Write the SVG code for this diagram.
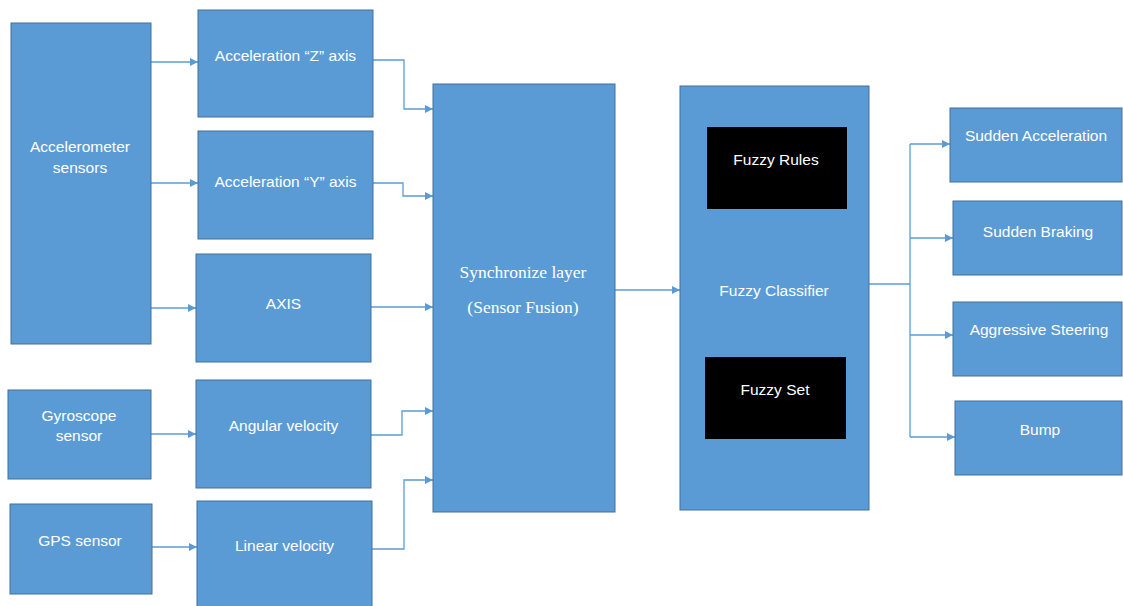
<svg xmlns="http://www.w3.org/2000/svg" width="1123" height="606" viewBox="0 0 1123 606">
<style>
.box{fill:#5B9BD5;stroke:#41719C;stroke-width:1}
.blk{fill:#000000}
.t{font-family:"Liberation Sans",Arial,sans-serif;font-size:15.5px;fill:#FFFFFF;text-anchor:middle}
.s{font-family:"Liberation Serif","Times New Roman",serif;font-size:17.5px;fill:#FFFFFF;text-anchor:middle}
.c{fill:none;stroke:#5B9BD5;stroke-width:1.3;marker-end:url(#ah)}
.c2{fill:none;stroke:#5B9BD5;stroke-width:1.3}
</style>
<defs>
<marker id="ah" viewBox="0 0 10 10" refX="10" refY="5" markerWidth="8" markerHeight="8" markerUnits="userSpaceOnUse" orient="auto">
<path d="M0,0 L10,5 L0,10 z" fill="#5B9BD5"/>
</marker>
</defs>
<rect width="1123" height="606" fill="#FFFFFF"/>
<g id="connectors">
<path class="c" d="M151,62 L198,62"/>
<path class="c" d="M151,183 L198,183"/>
<path class="c" d="M151,308 L196,308"/>
<path class="c" d="M151,434 L196,434"/>
<path class="c" d="M152,547 L197,547"/>
<path class="c" d="M373,60 L404,60 L404,109 L433,109"/>
<path class="c" d="M373,183 L403,183 L403,196 L433,196"/>
<path class="c" d="M371,307 L433,307"/>
<path class="c" d="M371,435 L402,435 L402,411 L433,411"/>
<path class="c" d="M372,549 L404,549 L404,480 L433,480"/>
<path class="c" d="M615,290 L680,290"/>
<path class="c2" d="M869,284 L910,284"/>
<path class="c2" d="M910,144 L910,437"/>
<path class="c" d="M910,144 L950,144"/>
<path class="c" d="M910,238 L953,238"/>
<path class="c" d="M910,335 L953,335"/>
<path class="c" d="M910,437 L955,437"/>
</g>
<g id="accelerometer"><rect class="box" x="11" y="23" width="140" height="321"/><text class="t" x="80" y="152">Accelerometer</text><text class="t" x="80" y="173">sensors</text></g>
<g id="accZ"><rect class="box" x="198" y="10" width="175" height="107"/><text class="t" x="285.5" y="61">Acceleration “Z” axis</text></g>
<g id="accY"><rect class="box" x="198" y="131" width="175" height="108"/><text class="t" x="285.5" y="187">Acceleration “Y” axis</text></g>
<g id="axis"><rect class="box" x="196" y="254" width="175" height="108"/><text class="t" x="283.5" y="309">AXIS</text></g>
<g id="gyroscope"><rect class="box" x="8" y="390" width="143" height="89"/><text class="t" x="79" y="421">Gyroscope</text><text class="t" x="79" y="441">sensor</text></g>
<g id="angular"><rect class="box" x="196" y="380" width="175" height="108"/><text class="t" x="283.5" y="431">Angular velocity</text></g>
<g id="gps"><rect class="box" x="10" y="504" width="142" height="90"/><text class="t" x="80" y="546">GPS sensor</text></g>
<g id="linear"><rect class="box" x="197" y="501" width="175" height="106"/><text class="t" x="284.5" y="551">Linear velocity</text></g>
<g id="sync"><rect class="box" x="433" y="84" width="182" height="428"/><text class="s" x="523" y="278">Synchronize layer</text><text class="s" x="523" y="313">(Sensor Fusion)</text></g>
<g id="fuzzy"><rect class="box" x="680" y="86" width="189" height="424"/><text class="t" x="774" y="296">Fuzzy Classifier</text></g>
<g id="rules"><rect class="blk" x="707" y="127" width="140" height="82"/><text class="t" x="776" y="165">Fuzzy Rules</text></g>
<g id="set"><rect class="blk" x="705" y="357" width="141" height="82"/><text class="t" x="775" y="395">Fuzzy Set</text></g>
<g id="suddenAcc"><rect class="box" x="950" y="108" width="172" height="74"/><text class="t" x="1036" y="141">Sudden Acceleration</text></g>
<g id="suddenBrake"><rect class="box" x="953" y="201" width="169" height="74"/><text class="t" x="1038" y="237">Sudden Braking</text></g>
<g id="aggressive"><rect class="box" x="953" y="302" width="169" height="74"/><text class="t" x="1039" y="335">Aggressive Steering</text></g>
<g id="bump"><rect class="box" x="955" y="401" width="167" height="74"/><text class="t" x="1040" y="435">Bump</text></g>
</svg>
